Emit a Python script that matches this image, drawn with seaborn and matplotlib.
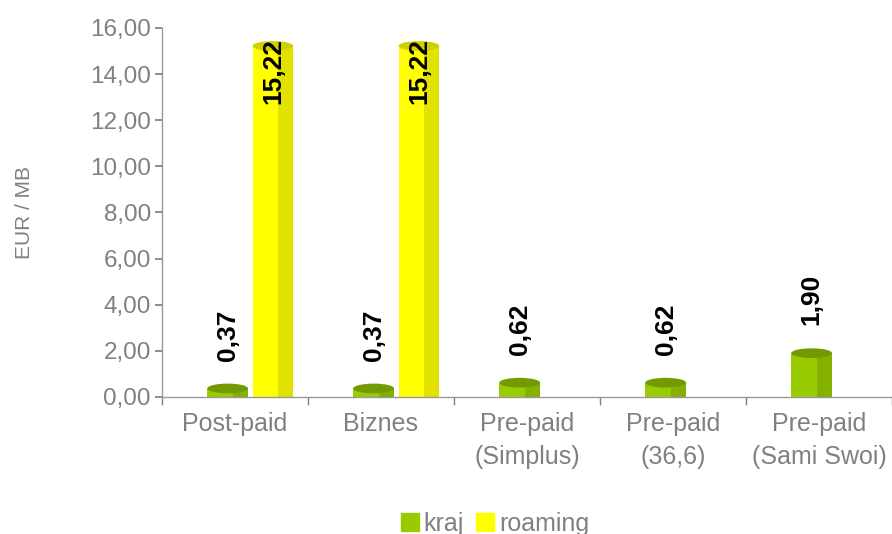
# Cena transmisji danych: kraj vs roaming
import pandas as pd
import seaborn as sns
import matplotlib.pyplot as plt
from matplotlib.patches import Ellipse, Rectangle, Patch

# dane
categories = ["Post-paid", "Biznes", "Pre-paid\n(Simplus)", "Pre-paid\n(36,6)", "Pre-paid\n(Sami Swoi)"]
kraj = [0.37, 0.37, 0.62, 0.62, 1.90]
roaming = [15.22, 15.22, None, None, None]
series = ["kraj", "roaming"]

colors = {"kraj": "#99CC00", "roaming": "#FFFF00"}
side = {"kraj": "#84B000", "roaming": "#E2E200"}
top = {"kraj": "#739A00", "roaming": "#D0D000"}
gray = "#808080"

df = pd.DataFrame({
    "plan": categories * 2,
    "typ": ["kraj"] * len(kraj) + ["roaming"] * len(roaming),
    "eur": kraj + roaming,
}).dropna()

sns.set_theme(style="white")
plt.rcParams['font.family'] = ['Liberation Sans', 'DejaVu Sans']

fig = plt.figure(figsize=(8.92, 5.34), dpi=100)
ax = fig.add_axes([0.1816, 0.2566, 0.8184, 0.691])

sns.barplot(data=df, x="plan", y="eur", hue="typ", order=categories,
            hue_order=series, palette=colors, saturation=1,
            width=0.62, gap=0.1, legend=False, ax=ax)

# przesuniecie slupkow (efekt 3D w oryginale) + cylindryczny wyglad
for name, cont in zip(series, ax.containers):
    for bar in cont:
        bar.set_x(bar.get_x() + 0.105)
        bar.set_edgecolor("none")
        x0, w, h = bar.get_x(), bar.get_width(), bar.get_height()
        ax.add_patch(Rectangle((x0 + 0.62 * w, 0), 0.38 * w, h,
                               color=side[name], lw=0, zorder=bar.get_zorder()))
        ax.add_patch(Ellipse((x0 + w / 2, h), w, 0.42,
                             color=top[name], lw=0, zorder=bar.get_zorder() + 0.1))
        val = f"{h:.2f}".replace(".", ",")
        if h > 5:
            ax.text(x0 + w / 2, h + 0.35, val, rotation=90, ha="center", va="top",
                    fontsize=19, fontweight="bold", color="black", zorder=5)
        else:
            ax.annotate(val, (x0 + w / 2, h), xytext=(0, 20), textcoords="offset points",
                        rotation=90, ha="center", va="bottom",
                        fontsize=19, fontweight="bold", color="black", zorder=5)

ax.set_ylim(0, 16)
ax.set_xlim(-0.5, 4.43)
ax.set_yticks(range(0, 17, 2))
ax.set_yticklabels([f"{v:.2f}".replace(".", ",") for v in range(0, 17, 2)])
ax.set_xticks(range(len(categories)))
ax.set_xticklabels(categories, linespacing=1.45)
ax.set_xticks([i - 0.5 for i in range(len(categories) + 1)], minor=True)

ax.tick_params(axis="y", length=5, color=gray, labelsize=17.5, labelcolor=gray,
               left=True, direction="out", pad=3)
ax.tick_params(axis="x", which="major", length=0, labelsize=18, labelcolor=gray, pad=11)
ax.tick_params(axis="x", which="minor", length=6, color=gray, bottom=True, direction="out")

ax.set_xlabel("")
ax.set_ylabel("EUR / MB", fontsize=15, color=gray)
ax.yaxis.set_label_coords(-0.176, 0.5)

for s in ["top", "right"]:
    ax.spines[s].set_visible(False)
for s in ["left", "bottom"]:
    ax.spines[s].set_color("#999999")
    ax.spines[s].set_linewidth(1)

handles = [Patch(color=colors[s], label=s) for s in series]
fig.legend(handles=handles, loc="lower center", bbox_to_anchor=(0.555, -0.045),
           ncol=2, frameon=False, fontsize=18, labelcolor=gray,
           handlelength=0.7, handleheight=0.7, handletextpad=0.2, columnspacing=0.5)

fig.savefig("out.png", dpi=100)
